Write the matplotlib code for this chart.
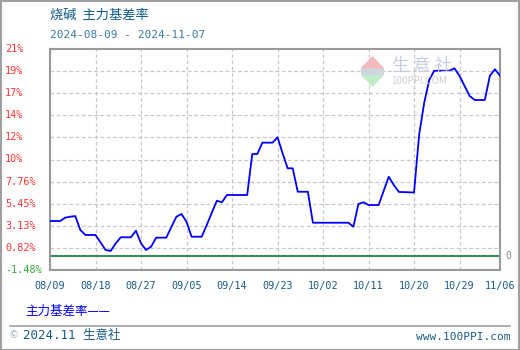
import matplotlib
matplotlib.use("Agg")
import matplotlib.pyplot as plt
import matplotlib.dates as mdates
from matplotlib.patches import Polygon, Rectangle
import pandas as pd

plt.rcParams['font.family'] = ['Noto Sans CJK SC', 'DejaVu Sans']

# ---- data ----
dates = ["2024-08-09", "2024-08-11", "2024-08-12", "2024-08-13", "2024-08-14", "2024-08-15",
         "2024-08-16", "2024-08-18", "2024-08-19", "2024-08-20", "2024-08-21", "2024-08-22",
         "2024-08-23", "2024-08-25", "2024-08-26", "2024-08-27", "2024-08-28", "2024-08-29",
         "2024-08-30", "2024-09-01", "2024-09-02", "2024-09-03", "2024-09-04", "2024-09-05",
         "2024-09-06", "2024-09-08", "2024-09-09", "2024-09-10", "2024-09-11", "2024-09-12",
         "2024-09-13", "2024-09-17", "2024-09-18", "2024-09-19", "2024-09-20", "2024-09-22",
         "2024-09-23", "2024-09-24", "2024-09-25", "2024-09-26", "2024-09-27", "2024-09-29",
         "2024-09-30", "2024-10-07", "2024-10-08", "2024-10-09", "2024-10-10", "2024-10-11",
         "2024-10-13", "2024-10-14", "2024-10-15", "2024-10-16", "2024-10-17", "2024-10-20",
         "2024-10-21", "2024-10-22", "2024-10-23", "2024-10-24", "2024-10-27", "2024-10-28",
         "2024-10-29", "2024-10-30", "2024-10-31", "2024-11-01", "2024-11-03", "2024-11-04",
         "2024-11-05", "2024-11-06"]
basis_rate = [3.64, 3.64, 3.99, 4.09, 4.16, 2.70,
              2.18, 2.18, 1.40, 0.61, 0.51, 1.31,
              1.94, 1.94, 2.63, 1.30, 0.61, 0.96,
              1.90, 1.90, 3.01, 4.09, 4.37, 3.57,
              2.00, 2.00, 3.22, 4.50, 5.76, 5.60,
              6.36, 6.36, 10.64, 10.64, 11.83, 11.83,
              12.39, 10.72, 9.15, 9.15, 6.70, 6.70,
              3.46, 3.46, 3.05, 5.42, 5.60, 5.31,
              5.31, 6.80, 8.27, 7.40, 6.68, 6.62,
              12.63, 15.97, 18.38, 19.35, 19.35, 19.60,
              18.80, 17.75, 16.71, 16.29, 16.29, 18.83,
              19.50, 18.83]

y_ticks = [-1.48, 0.83, 3.14, 5.45, 7.76, 10.07, 12.38, 14.69, 17.00, 19.31, 21.62]
y_labels = ["-1.48%", "0.82%", "3.13%", "5.45%", "7.76%", "10%", "12%", "14%", "17%", "19%", "21%"]
x_tick_dates = ["2024-08-09", "2024-08-18", "2024-08-27", "2024-09-05", "2024-09-14", "2024-09-23",
                "2024-10-02", "2024-10-11", "2024-10-20", "2024-10-29", "2024-11-06"]
x_labels = ["08/09", "08/18", "08/27", "09/05", "09/14", "09/23", "10/02", "10/11", "10/20", "10/29", "11/06"]

title = "烧碱  主力基差率"
subtitle = "2024-08-09 - 2024-11-07"
legend_label = "主力基差率——"

W, H = 520, 350
fig = plt.figure(figsize=(W / 100, H / 100), dpi=100)
fig.patch.set_facecolor("white")

def fx(px):
    return px / W

def fy(py):
    return 1 - py / H

# outer frame
fig.add_artist(Rectangle((0.5 / W, 0.5 / H), 1 - 1.5 / W, 1 - 1.5 / H, transform=fig.transFigure,
                         fill=False, edgecolor="#a0a0a0", linewidth=1.5))

ax = fig.add_axes([fx(50), fy(270), fx(450), 221 / H])
x = mdates.date2num(pd.to_datetime(dates))
xt = mdates.date2num(pd.to_datetime(x_tick_dates))

ax.set_xlim(xt[0], xt[-1])
ax.set_ylim(y_ticks[0], y_ticks[-1])

for t in y_ticks[1:-1]:
    ax.axhline(t, color="#c8c8c8", linestyle=(0, (3, 2)), linewidth=0.9, zorder=1)
for t in xt[1:-1]:
    ax.axvline(t, color="#c8c8c8", linestyle=(0, (3, 2)), linewidth=0.9, zorder=1)

ax.axhline(0, color="#3a8a5e", linewidth=1.5, zorder=2)
ax.plot(x, basis_rate, color="#0000ff", linewidth=1.3, zorder=3)

ax.set_xticks([])
ax.set_yticks([])
for s in ax.spines.values():
    s.set_color("#999999")
    s.set_linewidth(1.5)

# y labels (left aligned, red / green)
for t, lab in zip(y_ticks, y_labels):
    col = "#33aa33" if t < 0 else "#ff3333"
    ypix = 270 - (t - y_ticks[0]) / (y_ticks[-1] - y_ticks[0]) * 221
    fig.text(fx(5), fy(ypix), lab, color=col, fontsize=7.3, family="DejaVu Sans Mono",
             ha="left", va="center")

# x labels
for t, lab in zip(xt, x_labels):
    ax.text(t, -0.05, lab, transform=ax.get_xaxis_transform(), color="#1a5a8a",
            fontsize=7.3, family="DejaVu Sans Mono", ha="center", va="top")

# right "0" label
ax.text(1.012, 0, "0", transform=ax.get_yaxis_transform(), color="#888888",
        fontsize=7, family="DejaVu Sans Mono", ha="left", va="center")

# titles
fig.text(fx(50), fy(15), title, color="#0e5a8a", fontsize=9.5, ha="left", va="center")
fig.text(fx(50), fy(35), subtitle, color="#3a78a5", fontsize=8, family="DejaVu Sans Mono",
         ha="left", va="center")

# legend
fig.text(fx(25), fy(311), legend_label, color="#0000ff", fontsize=9, ha="left", va="center")

# footer
fig.add_artist(plt.Line2D([fx(10), fx(510)], [fy(326), fy(326)], transform=fig.transFigure,
                          color="#a0a0a0", linewidth=1.2))
fig.text(fx(9), fy(335), "©", color="#9ab0c8", fontsize=7, ha="left", va="center")
fig.text(fx(23), fy(336), "2024.11 生意社", color="#1a5a8a", fontsize=9, ha="left", va="center",
         family=["DejaVu Sans Mono", "Noto Sans CJK SC"])
fig.text(fx(510), fy(337), "www.100PPI.com", color="#1a5a8a", fontsize=8,
         family="DejaVu Sans Mono", ha="right", va="center")

# watermark
fig.add_artist(Polygon([(fx(361), fy(68)), (fx(384), fy(68)), (fx(372.5), fy(56))], closed=True,
                       transform=fig.transFigure, facecolor="#f4b8b8", edgecolor="none", zorder=0.5))
fig.add_artist(Rectangle((fx(361), fy(75)), fx(23), 7 / H, transform=fig.transFigure,
                         facecolor="#d0d4dc", edgecolor="none", zorder=0.5))
fig.add_artist(Polygon([(fx(361), fy(75)), (fx(384), fy(75)), (fx(372.5), fy(87))], closed=True,
                       transform=fig.transFigure, facecolor="#c0ecc8", edgecolor="none", zorder=0.5))
fig.text(fx(392), fy(66), "生 意 社", color="#c8cce0", fontsize=12.5, ha="left", va="center",
         zorder=0.5)
fig.text(fx(391), fy(81), "100PPI.COM", color="#d0d0d0", fontsize=7, ha="left", va="center",
         zorder=0.5)

fig.savefig("out.png", dpi=100, facecolor="white")
